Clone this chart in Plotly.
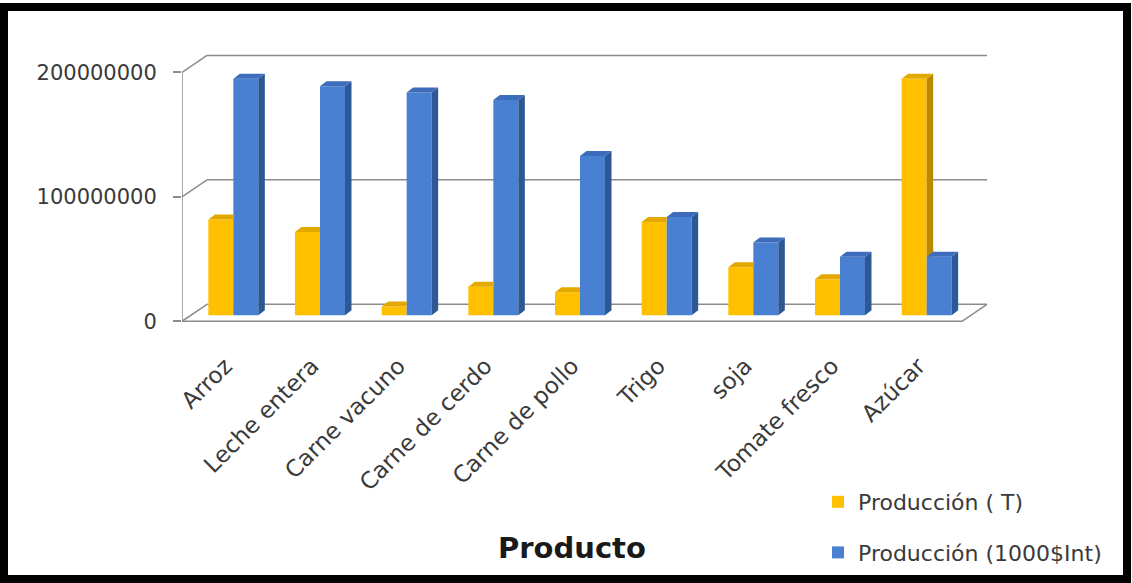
import plotly.graph_objects as go

# ---------------- data ----------------
categories = ["Arroz", "Leche entera", "Carne vacuno", "Carne de cerdo",
              "Carne de pollo", "Trigo", "soja", "Tomate fresco", "Azúcar"]
prod_t = [77e6, 67e6, 7e6, 23e6, 18.5e6, 75e6, 38.5e6, 29e6, 190e6]
prod_int = [190e6, 184e6, 179e6, 173e6, 128e6, 79e6, 58.5e6, 47e6, 47e6]
series_names = ["Producción ( T)", "Producción (1000$Int)"]
y_tickvals = [0, 100000000, 200000000]
y_ticktext = ["0", "100000000", "200000000"]

# ---------------- geometry ----------------
W, H = 1132, 583
L, R, T, B = 182, 988, 50, 325
x_range = [-0.5, 8.8]
y_range = [-3e6, 218e6]
px_x = (R - L) / (x_range[1] - x_range[0])
px_y = (B - T) / (y_range[1] - y_range[0])


def dx(p):
    return p / px_x


def dy(p):
    return p / px_y


wall_dx, wall_dy = dx(25), dy(17)
bar_dx, bar_dy = dx(8), dy(6)
face_dx, face_dy = dx(6.5), dy(5)
bar_w = dx(25)

YEL, YEL_SIDE, YEL_TOP = "#FFC000", "#B98900", "#E3A900"
BLU, BLU_SIDE, BLU_TOP = "#4A80D2", "#2D5896", "#3C6CBA"
GRID = "#8c8c8c"
FONT = "DejaVu Sans"

xs = [i + bar_dx for i in range(len(categories))]

fig = go.Figure()

# front faces
fig.add_trace(go.Bar(x=xs, y=prod_t, base=bar_dy, width=bar_w, offset=-bar_w,
                     marker=dict(color=YEL, line=dict(width=0)),
                     name=series_names[0], legendgroup="a", hoverinfo="skip"))
fig.add_trace(go.Bar(x=xs, y=prod_int, base=bar_dy, width=bar_w, offset=0,
                     marker=dict(color=BLU, line=dict(width=0)),
                     name=series_names[1], legendgroup="b", hoverinfo="skip"))


def add_poly(px, py, color):
    fig.add_trace(go.Scatter(x=px, y=py, mode="lines", fill="toself",
                             fillcolor=color, line=dict(width=0, color=color),
                             showlegend=False, hoverinfo="skip"))


ys_side_x, ys_side_y, ys_top_x, ys_top_y = [], [], [], []
bs_side_x, bs_side_y, bs_top_x, bs_top_y = [], [], [], []
for i, xc in enumerate(xs):
    b = bar_dy
    t = b + prod_t[i]
    tb = b + prod_int[i]
    # yellow bar (left)
    x0, x1 = xc - bar_w, xc
    if t > tb:
        ys_side_x += [x1, x1 + face_dx, x1 + face_dx, x1, None]
        ys_side_y += [max(b, tb), max(b + face_dy, tb), t + face_dy, t, None]
        ys_top_x += [x0, x0 + face_dx, x1 + face_dx, x1, None]
        ys_top_y += [t, t + face_dy, t + face_dy, t, None]
    else:
        ys_top_x += [x0, x0 + face_dx, x1, x1, None]
        ys_top_y += [t, t + face_dy, t + face_dy, t, None]
    # blue bar (right)
    x0, x1 = xc, xc + bar_w
    bs_side_x += [x1, x1 + face_dx, x1 + face_dx, x1, None]
    bs_side_y += [b, b + face_dy, tb + face_dy, tb, None]
    bs_top_x += [x0, x0 + face_dx, x1 + face_dx, x1, None]
    bs_top_y += [tb, tb + face_dy, tb + face_dy, tb, None]

add_poly(ys_side_x, ys_side_y, YEL_SIDE)
add_poly(ys_top_x, ys_top_y, YEL_TOP)
add_poly(bs_side_x, bs_side_y, BLU_SIDE)
add_poly(bs_top_x, bs_top_y, BLU_TOP)

# ---------------- 3D frame (walls / floor) ----------------
shapes = []
xl, xr = -0.5, len(categories) - 0.5
for v in y_tickvals:
    shapes.append(dict(type="line", xref="x", yref="y", x0=xl, y0=v,
                       x1=xl + wall_dx, y1=v + wall_dy,
                       line=dict(color=GRID, width=1.5), layer="below"))
    shapes.append(dict(type="line", xref="x", yref="y", x0=xl + wall_dx, y0=v + wall_dy,
                       x1=xr + wall_dx, y1=v + wall_dy,
                       line=dict(color=GRID, width=1.5), layer="below"))
shapes.append(dict(type="line", xref="x", yref="y", x0=xl, y0=0, x1=xl, y1=y_tickvals[-1],
                   line=dict(color=GRID, width=1.5), layer="below"))
shapes.append(dict(type="line", xref="x", yref="y", x0=xl, y0=0, x1=xr, y1=0,
                   line=dict(color=GRID, width=1.5), layer="below"))
shapes.append(dict(type="line", xref="x", yref="y", x0=xr, y0=0, x1=xr + wall_dx, y1=wall_dy,
                   line=dict(color=GRID, width=1.5), layer="below"))

# black frame around the chart
pw, ph = R - L, B - T
shapes.append(dict(type="rect", xref="paper", yref="paper",
                   x0=(4 - L) / pw, x1=(1127 - L) / pw,
                   y0=(B - 579) / ph, y1=(B - 7) / ph,
                   line=dict(color="black", width=8), fillcolor="rgba(0,0,0,0)",
                   layer="above"))

fig.update_layout(
    width=W, height=H,
    margin=dict(l=L, r=W - R, t=T, b=H - B, pad=0, autoexpand=False),
    paper_bgcolor="white", plot_bgcolor="white",
    template="none",
    barmode="overlay",
    showlegend=True,
    shapes=shapes,
    font=dict(family=FONT, color="#3a3a3a"),
    xaxis=dict(range=x_range, tickvals=list(range(len(categories))), ticktext=categories,
               tickangle=-45, showgrid=False, zeroline=False, showline=False, ticks="",
               ticklabelstandoff=22,
               tickfont=dict(family=FONT, size=23, color="#3a3a3a"), fixedrange=True),
    yaxis=dict(range=y_range, tickvals=y_tickvals, ticktext=y_ticktext,
               showgrid=False, zeroline=False, showline=False, ticks="outside",
               ticklen=8, tickcolor=GRID, tickwidth=1.5, ticklabelstandoff=12,
               tickfont=dict(family=FONT, size=21, color="#3a3a3a"), fixedrange=True),
    legend=dict(x=(818 - L) / pw, y=(B - 481) / ph, xanchor="left", yanchor="top",
                bgcolor="rgba(0,0,0,0)", font=dict(family=FONT, size=22, color="#3a3a3a"),
                tracegroupgap=19, itemsizing="constant", traceorder="grouped"),
    annotations=[dict(text="<b>Producto</b>", xref="paper", yref="paper",
                      x=(572 - L) / pw, y=(B - 548) / ph, xanchor="center", yanchor="middle",
                      showarrow=False, font=dict(family=FONT, size=29, color="#1a1a1a"))],
)

fig.write_html("out.html")
